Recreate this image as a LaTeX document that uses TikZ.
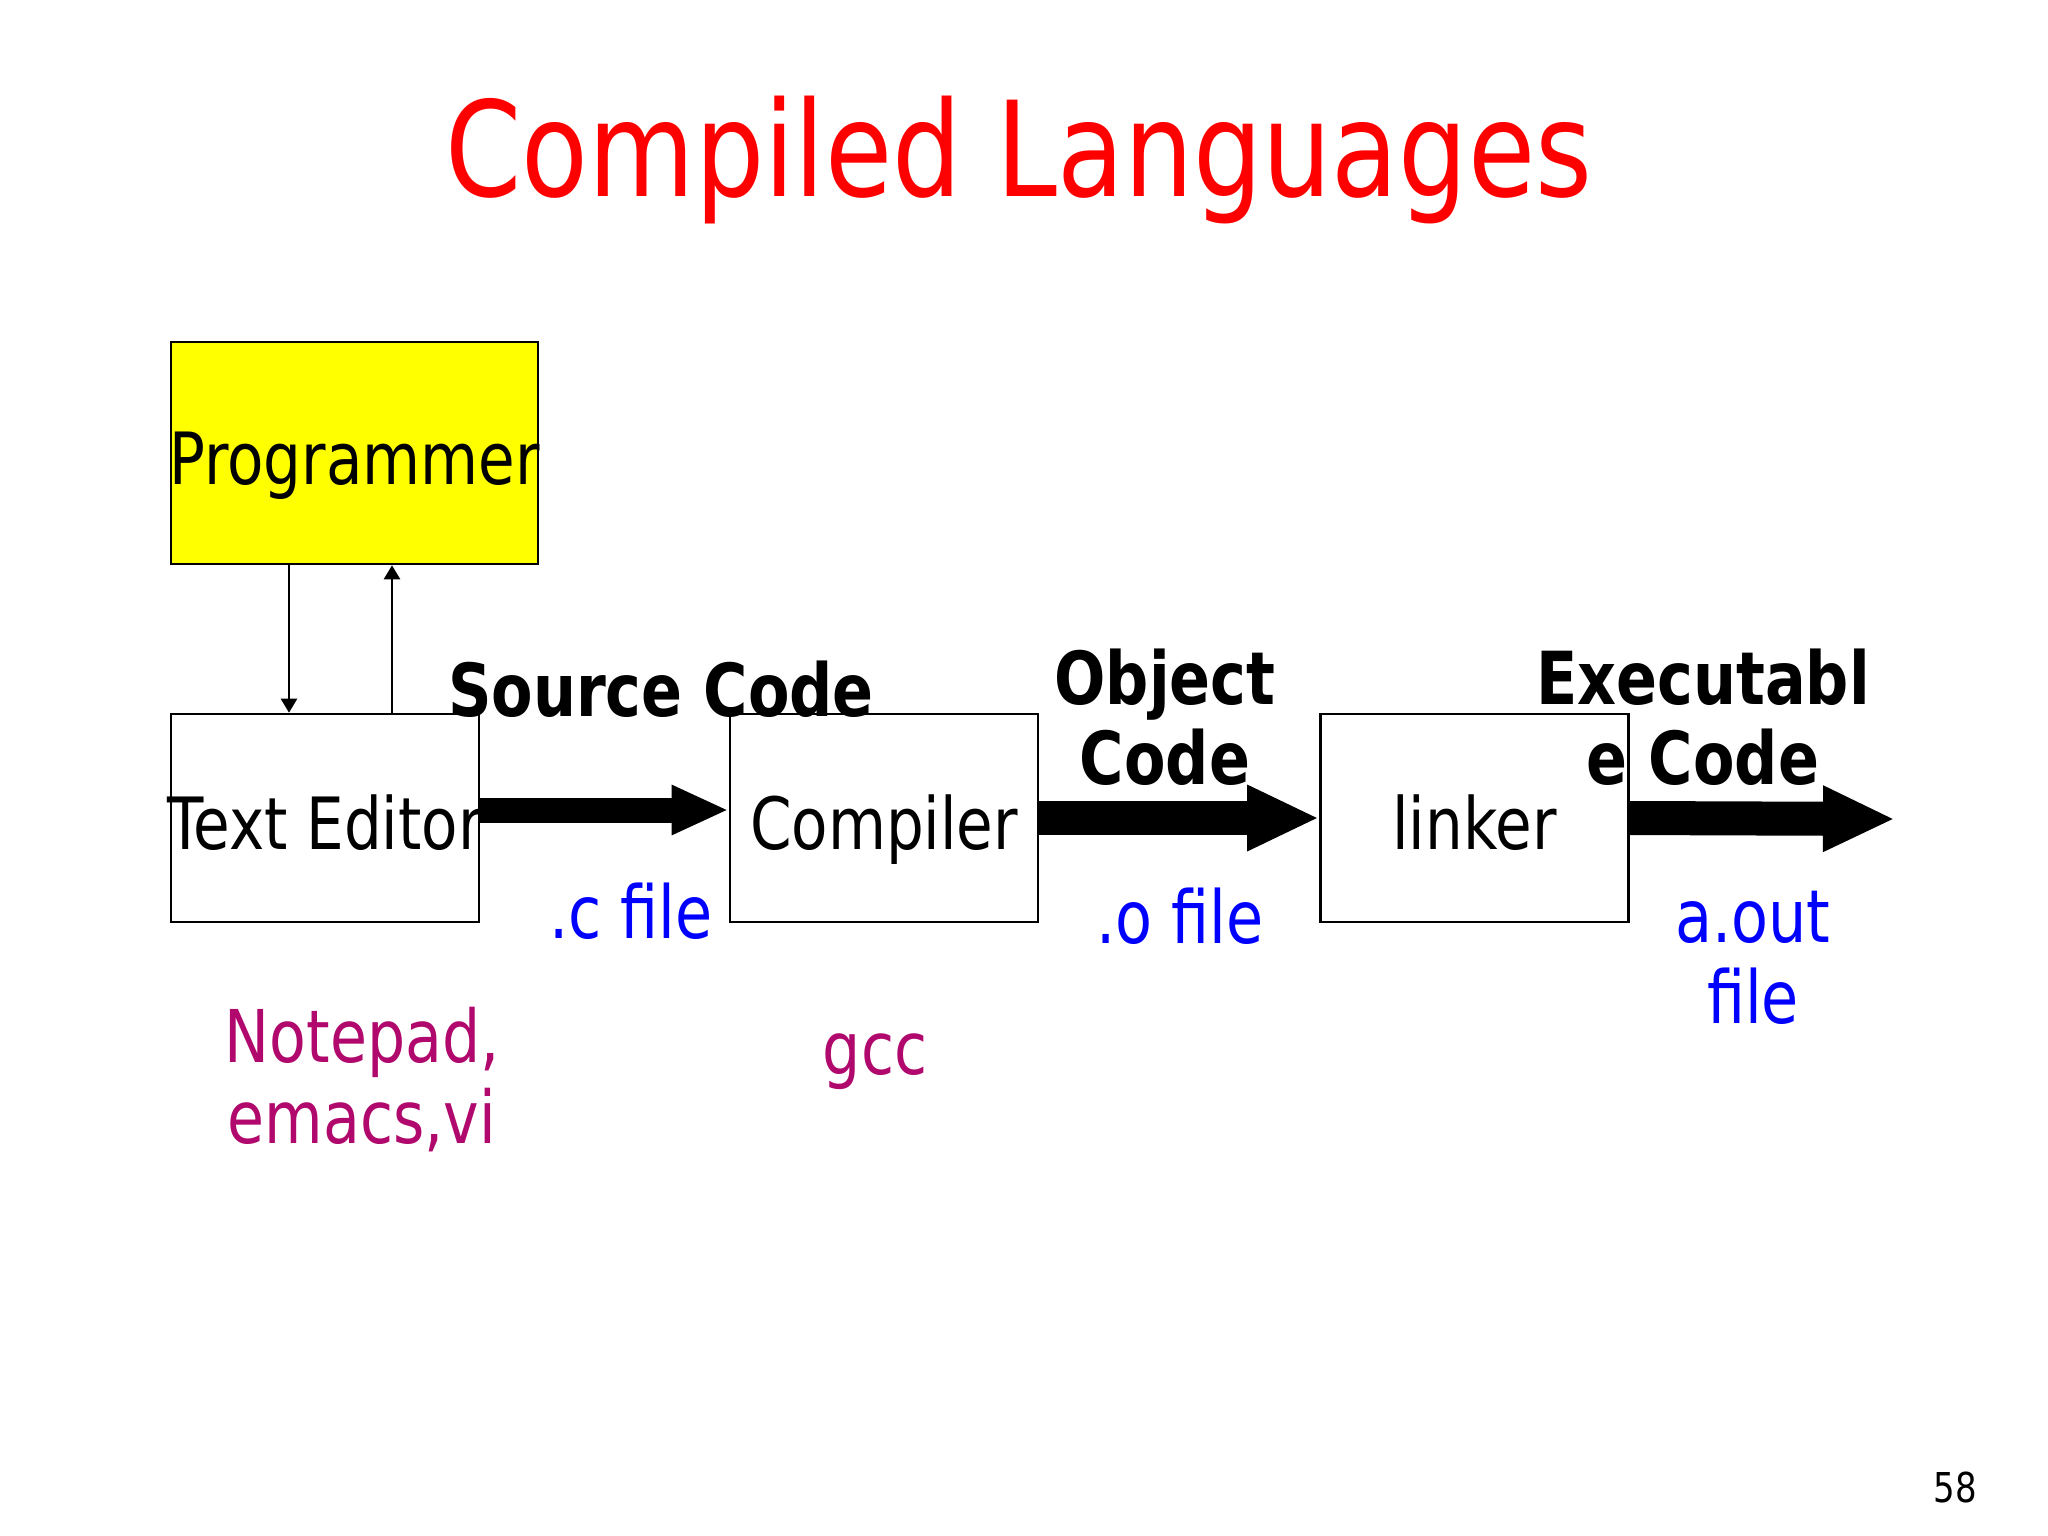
\documentclass[tikz,border=0pt]{standalone}
\usepackage{fontspec}
\setmainfont{DejaVu Sans}[FakeStretch=0.826]
\usetikzlibrary{arrows.meta, positioning}
\usepackage{xcolor}
\definecolor{TitleRed}{HTML}{FF0000}
\definecolor{FileBlue}{HTML}{0000FF}
\definecolor{ToolPurple}{HTML}{B0086C}
\definecolor{BoxYellow}{HTML}{FFFF00}

\tikzset{
  stage/.style={draw, line width=0.7pt, minimum width=3.08cm, minimum height=2.08cm,
    inner sep=0pt, text height=0.8cm, text depth=0.18cm, font=\fontsize{20.5}{24}\selectfont},
  flowlabel/.style={anchor=base, align=center, font=\bfseries\fontsize{20.8}{22.5}\selectfont},
  filelabel/.style={anchor=base, align=center, text=FileBlue, font=\fontsize{20.8}{22.8}\selectfont},
  toollabel/.style={anchor=base, align=center, text=ToolPurple, font=\fontsize{20.7}{22.8}\selectfont},
  thinarrow/.style={line width=0.7pt, -{Triangle[length=0.14cm, width=0.16cm]}},
  fatarrow/.style={line width=0.25cm, -{Triangle[length=0.57cm, width=0.46cm]}},
  fatterarrow/.style={line width=0.34cm, -{Triangle[length=0.72cm, width=0.61cm]}},
}
\newcommand{\wide}[1]{\makebox[0pt]{#1}}

\begin{document}
\begin{tikzpicture}[x=0.01cm, y=-0.01cm]
  \fill[white] (0,0) rectangle (2048,1536);
  \useasboundingbox (0,0) rectangle (2048,1536);

  \node[anchor=base, text=TitleRed, font=\fontsize{37.6}{40}\selectfont] (title) at (1019,196) {Compiled Languages};

  % boxes
  \node[stage, fill=BoxYellow, minimum width=3.67cm, minimum height=2.22cm] (prog) at (354.5,453) {\wide{Programmer}};
  \node[stage] (te) at (325,818) {\wide{Text Editor}};
  \node[stage] (comp) at (884,818) {\wide{Compiler}};
  \node[stage] (link) at (1474.5,818) {\wide{linker}};
  \coordinate (exe) at (1895,819);

  % programmer <-> editor
  \coordinate (dn) at (289,0);
  \coordinate (up) at (392,0);
  \draw[thinarrow] (prog.south -| dn) -- (te.north -| dn);
  \draw[thinarrow] (te.north -| up) -- (prog.south -| up);

  % pipeline
  \draw[fatarrow] ([yshift=0.08cm]te.east) -- ([yshift=0.08cm]comp.west);
  \draw[fatterarrow] (comp.east) -- (link.west);
  \draw[fatterarrow] (link.east) -- (exe);

  \node[flowlabel] (src) at (661,716) {Source Code};
  \node[flowlabel] (obj) at (1165,784) {Object\\Code};
  \node[flowlabel] (exec) at (1703,784) {Executabl\\e Code};

  \node[filelabel] (cfile) at (631,938) {.c file};
  \node[filelabel] (ofile) at (1180,943) {.o file};
  \node[filelabel] (aout) at (1753,1023) {a.out\\file};

  \node[toollabel] (editors) at (362,1143) {Notepad,\\emacs,vi};
  \node[toollabel] (gcc) at (875,1074) {gcc};

  \node[anchor=base, font=\fontsize{11.7}{14}\selectfont] (page) at (1955,1502) {58};
\end{tikzpicture}
\end{document}
